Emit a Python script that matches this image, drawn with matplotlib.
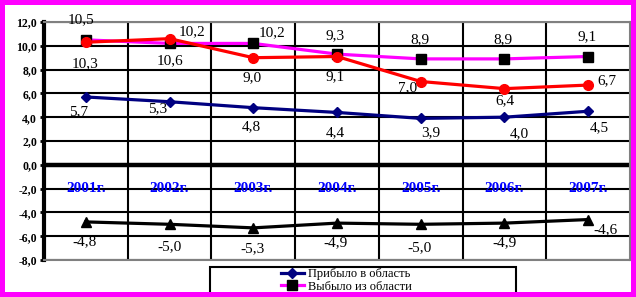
import numpy as np
import matplotlib.pyplot as plt
from matplotlib.patches import Rectangle

plt.rcParams['font.family'] = ['Liberation Serif', 'DejaVu Serif']

# data
years = ["2001г.", "2002г.", "2003г.", "2004г.", "2005г.", "2006г.", "2007г."]
arrived = [5.7, 5.3, 4.8, 4.4, 3.9, 4.0, 4.5]          # Прибыло в область
left_reg = [10.5, 10.2, 10.2, 9.3, 8.9, 8.9, 9.1]      # Выбыло из области
red_vals = [10.3, 10.6, 9.0, 9.1, 7.0, 6.4, 6.7]
balance = [-4.8, -5.0, -5.3, -4.9, -5.0, -4.9, -4.6]

# label offsets in pixels (dx, dy)
off_arrived = [(-7, -15), (-12, -7), (-2, -19), (-2, -20), (10, -14), (15, -16), (11, -16)]
off_left = [(-5, 20), (22, 12), (19, 11), (-2, 18), (-1, 19), (-1, 19), (-1, 20)]
off_red = [(-1, -21), (0, -22), (-1, -20), (-2, -20), (-13, -6), (1, -12), (19, 4)]
off_bal = [(-1, -20), (0, -22), (-1, -21), (-1, -20), (-1, -23), (0, -20), (17, -10)]

x = np.arange(len(years))

fig = plt.figure(figsize=(6.36, 2.97), dpi=100)
fig.patch.set_facecolor('white')
ax = fig.add_axes([44/636, 1-260/297, (630-44)/636, (260-22)/297])

# grid
ax.set_xlim(-0.5, 6.5)
ax.set_ylim(-8, 12)
yt = np.arange(-8, 13, 2)
ax.set_yticks(yt)
ax.set_yticklabels([("%.1f" % v).replace('.', ',') for v in yt])
ax.set_xticks([])
ax.set_xticks(x[:-1] + 0.5, minor=True)
ax.tick_params(axis='x', which='minor', length=0, labelbottom=False)
ax.tick_params(axis='y', length=3, width=2, labelsize=8.5, pad=2)
for t in ax.get_yticklabels():
    t.set_fontweight('bold')
ax.grid(axis='y', which='major', color='black', lw=1.5)
ax.grid(axis='x', which='minor', color='black', lw=1.5)
ax.set_axisbelow(True)
ax.axhline(0, color='black', lw=3.2, zorder=1.5)

for s in ['top', 'bottom', 'right']:
    ax.spines[s].set_color('#808080')
    ax.spines[s].set_linewidth(1.5)
ax.spines['left'].set_color('black')
ax.spines['left'].set_linewidth(3)

# year labels
for xi, yl in zip(x, years):
    ax.text(xi, -1.95, yl, color='#0000ff', fontsize=11, fontweight='bold',
            ha='center', va='center', zorder=3)

# series
l1, = ax.plot(x, arrived, color='#000080', lw=2.3, marker='D', ms=5,
              label='Прибыло в область', zorder=4)
l2, = ax.plot(x, left_reg, color='#ff00ff', lw=2.3, marker='s', ms=6.5,
              mfc='black', mec='black', label='Выбыло из области', zorder=4)
l3, = ax.plot(x, red_vals, color='#ff0000', lw=2.3, marker='o', ms=7, zorder=5)
l4, = ax.plot(x, balance, color='black', lw=2.3, marker='^', ms=7, zorder=4)

def label(vals, offs):
    for xi, v, (dx, dy) in zip(x, vals, offs):
        ax.annotate(("%.1f" % v).replace('.', ','), (xi, v), xytext=(dx, dy),
                    textcoords='offset pixels', ha='center', va='center',
                    fontsize=11, zorder=6)

label(arrived, off_arrived)
label(left_reg, off_left)
label(red_vals, off_red)
label(balance, off_bal)

# legend box
fig.add_artist(Rectangle((210/636, 1-300/297), (516-210)/636, 33/297,
                         transform=fig.transFigure, fill=False,
                         edgecolor='black', lw=1.5, zorder=6))
fig.legend(handles=[l1, l2], loc='upper left',
           bbox_to_anchor=(281/636, 1-268/297), frameon=False,
           fontsize=9, handlelength=1.8, handletextpad=0.4,
           labelspacing=0.05, borderpad=0, borderaxespad=0)

# magenta frame
fig.add_artist(Rectangle((0, 0), 1, 1, transform=fig.transFigure, fill=False,
                         edgecolor='#ff00ff', lw=7.2, zorder=100))

fig.savefig('out.png', dpi=100)
